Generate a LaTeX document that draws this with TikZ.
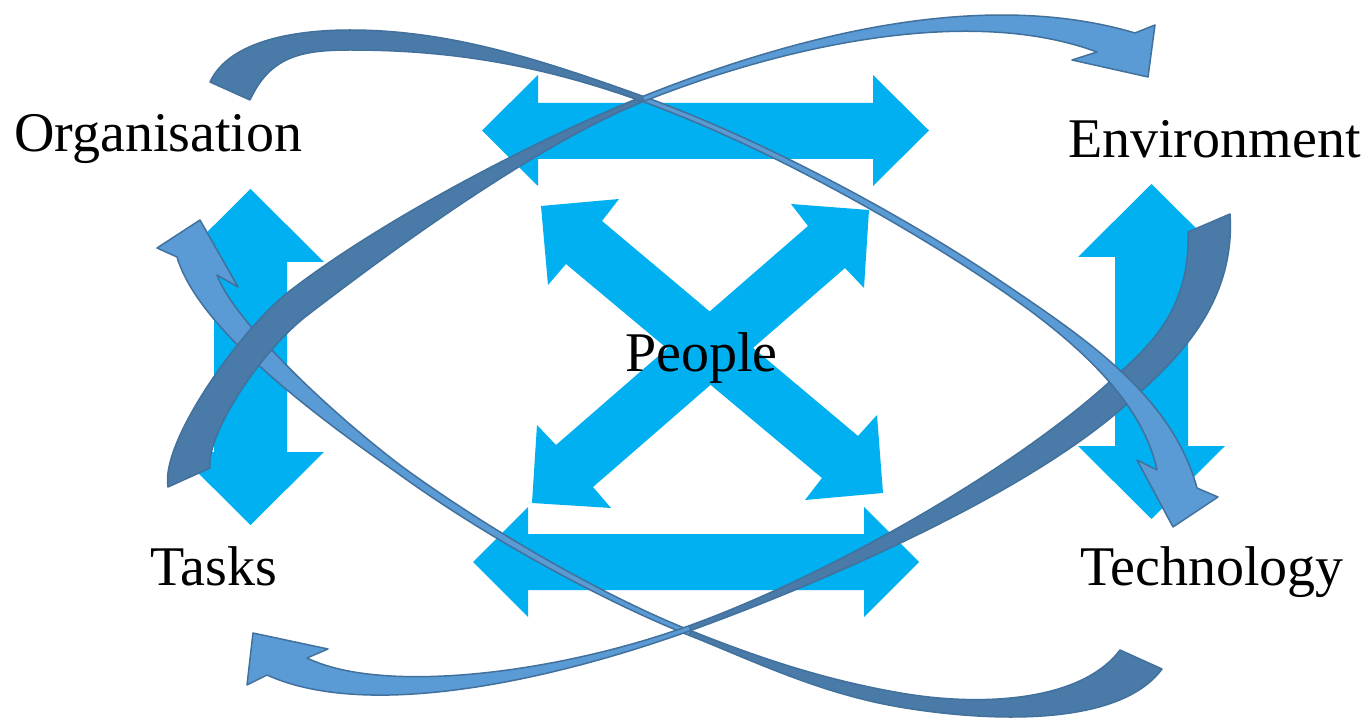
\documentclass[tikz,border=0pt]{standalone}
\usepackage{fontspec}
\setmainfont{Liberation Serif}
\definecolor{cyanA}{HTML}{00B0F0}
\definecolor{lightB}{HTML}{5B9BD5}
\definecolor{darkB}{HTML}{4A7BA8}
\definecolor{edgeB}{HTML}{41719C}
\newcommand{\lblfont}{\fontsize{56}{60}\selectfont}
\tikzset{
  cyanarrow/.style={fill=cyanA, draw=none},
  lightband/.style={fill=lightB, draw=edgeB, line width=1.5pt, line join=round},
  darkband/.style={fill=darkB, draw=edgeB, line width=1.5pt, line join=round},
  lbl/.style={anchor=base west, inner sep=0pt, font=\lblfont, text=black}
}
\begin{document}
\begin{tikzpicture}[x=1pt, y=-1pt]
\useasboundingbox (0,0) rectangle (1369,719);
\fill[white] (0,0) rectangle (1369,719);

% cyan straight double arrows
\fill[cyanarrow] (482,130.5) -- (538,75) -- (538,103) -- (873,103) -- (873,75) -- (929,130.5) -- (873,186) -- (873,159) -- (538,159) -- (538,186) -- cycle;
\fill[cyanarrow] (473,562) -- (528,507) -- (528,534) -- (864,534) -- (864,507) -- (919,562) -- (864,617) -- (864,590) -- (528,590) -- (528,617) -- cycle;
\fill[cyanarrow] (250.5,189) -- (324,262) -- (287,262) -- (287,452) -- (324,452) -- (250.5,525) -- (177,452) -- (214,452) -- (214,262) -- (177,262) -- cycle;
\fill[cyanarrow] (1151.5,184) -- (1225,257) -- (1188,257) -- (1188,446) -- (1225,446) -- (1151.5,519) -- (1078,446) -- (1115,446) -- (1115,257) -- (1078,257) -- cycle;
% diagonal cross
\fill[cyanarrow] (541,206) -- (619,199) -- (602,221) -- (858,436) -- (877,415) -- (883,493) -- (805,500) -- (822,478) -- (566,264) -- (548,285) -- cycle;
\fill[cyanarrow] (869,210) -- (864,288) -- (845,268) -- (593,487) -- (611,508) -- (532,503) -- (537,425) -- (556,445) -- (808,226) -- (791,204) -- cycle;

% B light (head at upper left, near Organisation)
\filldraw[lightband] (689.1,635.3) .. controls (596.1,598.3) and (478.6,532.2) .. (397.6,473.2)
  .. controls (315.5,415.8) and (197.9,328.4) .. (177,257)
  -- (157,248) -- (200,220) -- (238,287) -- (217,275)
  .. controls (232.1,317.6) and (322.5,406.2) .. (402.4,466.8)
  .. controls (483.4,525.8) and (597.9,593.7) .. (690.9,630.7) -- cycle;
% D dark (tail at right)
\filldraw[darkband] (1230,214) .. controls (1236.5,311.9) and (1163.4,370.9) .. (1126.4,404.4)
  .. controls (1029.9,491.4) and (831.9,579.4) .. (690.9,630.4)
  -- (689.2,625.7) .. controls (830.2,574.7) and (1011.1,470.6) .. (1107.6,383.6)
  .. controls (1144.6,350.1) and (1190.5,314.2) .. (1188,232) -- cycle;
% B dark (tail at bottom right)
\filldraw[darkband] (1162,669) .. controls (1117,730) and (978,720.5) .. (898.8,706.9)
  .. controls (819.8,693.3) and (754.1,661.3) .. (689.1,635.3)
  -- (690.9,630.7) .. controls (755.9,656.7) and (822.2,679.5) .. (901.2,693.1)
  .. controls (980,706.7) and (1081,702) .. (1120,650) -- cycle;
% D light (head at lower left, near Tasks)
\filldraw[lightband] (690.9,630.4) .. controls (558.9,678) and (370.7,722) .. (267,675)
  -- (247,685) -- (253,633) -- (328,649) -- (307,658)
  .. controls (383.3,695) and (557.2,673.3) .. (689.2,625.7) -- cycle;
% A light (head at right, near Technology)
\filldraw[lightband] (643.8,96.6) .. controls (765.8,140.6) and (911,220) .. (1002,282)
  .. controls (1085,338) and (1172,396) .. (1197,488)
  -- (1218,497) -- (1173,527) -- (1137,460) -- (1157,470)
  .. controls (1143,404) and (1081,344) .. (998,288)
  .. controls (907,226) and (764.2,145.4) .. (642.2,101.4) -- cycle;
% C dark (tail at lower left)
\filldraw[darkband] (168,487) .. controls (160,441) and (243,326) .. (291,290)
  .. controls (386,217) and (540,138) .. (642,96.7)
  -- (644,101.3) .. controls (542,142) and (404,241) .. (309,314)
  .. controls (261,350) and (206,434.5) .. (210,468) -- cycle;
% A dark (tail at top left)
\filldraw[darkband] (210,82) .. controls (230,39) and (300,30) .. (350,30)
  .. controls (450,30) and (540.8,59.6) .. (643.8,96.6)
  -- (642.2,101.4) .. controls (539.2,64.4) and (450,50) .. (350,50)
  .. controls (300,50) and (270,57) .. (250,100) -- cycle;
% C light (head at top right, near Environment)
\filldraw[lightband] (642,96.7) .. controls (781.6,41.2) and (974.7,-14.6) .. (1135,33)
  -- (1155,25) -- (1148,77) -- (1072,60) -- (1097,52)
  .. controls (969.3,4.6) and (783.4,45.8) .. (644,101.3) -- cycle;

% labels
\node[lbl] (org) at (14,152) {Organisation};
\node[lbl] (env) at (1068,158) {Environment};
\node[lbl] (ppl) at (625,372) {People};
\node[lbl] (tsk) at (150,585) {Tasks};
\node[lbl] (tec) at (1080,585) {Technology};
\end{tikzpicture}
\end{document}
